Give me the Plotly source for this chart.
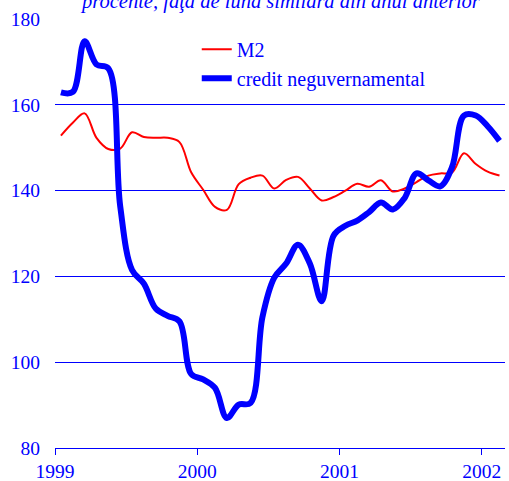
import plotly.graph_objects as go

# monthly data, Jan 1999 - Feb 2002
start_year = 1999
m2 = [152.8, 155.8, 158.0, 152.3, 149.7, 149.8, 153.6, 152.5, 152.3, 152.3, 151.3, 144.2,
      140.2, 136.2, 135.5, 141.5, 143.0, 143.5, 140.5, 142.5, 143.2, 140.5, 137.7, 138.5,
      140.0, 141.6, 140.9, 142.4, 139.8, 140.5, 142.0, 143.5, 144.0, 144.2, 148.7, 146.2,
      144.4, 143.5]
credit = [162.9, 163.0, 174.8, 169.4, 168.5, 136.4, 121.5, 118.3, 112.5, 110.8, 109.5, 97.2,
          96.0, 94.0, 87.0, 90.1, 90.5, 110.5, 119.7, 123.0, 127.4, 123.0, 114.2, 129.5,
          131.8, 133.0, 135.0, 137.2, 135.6, 138.3, 144.0, 142.4, 141.0, 145.5, 157.5, 157.5,
          155.0, 151.6]
x = [start_year + (i + 0.5) / 12 for i in range(len(m2))]
year_ticks = [1999, 2000, 2001, 2002]
y_ticks = [80, 100, 120, 140, 160, 180]
title = "procente, faţă de luna similară din anul anterior"

FONT = "Times New Roman, Liberation Serif, DejaVu Serif, serif"
BLUE = "#0000ff"

fig = go.Figure()
fig.add_trace(go.Scatter(x=x, y=m2, mode="lines", name="M2",
                         line=dict(color="#ff0000", width=2, shape="spline", smoothing=1)))
fig.add_trace(go.Scatter(x=x, y=credit, mode="lines", name="credit neguvernamental",
                         line=dict(color=BLUE, width=6, shape="spline", smoothing=1)))

fig.update_layout(
    width=509, height=481,
    margin=dict(l=55, r=4, t=19, b=33, autoexpand=False),
    paper_bgcolor="white", plot_bgcolor="white",
    font=dict(family=FONT, size=19, color=BLUE),
    showlegend=True,
    legend=dict(x=0.315, y=0.975, xanchor="left", yanchor="top",
                bgcolor="rgba(0,0,0,0)", font=dict(family=FONT, size=20, color=BLUE),
                tracegroupgap=0, itemwidth=30),
    xaxis=dict(range=[1999, 2002 + 23.3 / 142.3], tickvals=year_ticks,
               ticktext=[str(v) for v in year_ticks], automargin=False,
               showgrid=False, zeroline=False, showline=True, linecolor=BLUE, linewidth=1,
               ticks="outside", ticklen=6, tickcolor=BLUE,
               tickfont=dict(family=FONT, size=19.5, color=BLUE)),
    yaxis=dict(range=[80, 180], tickvals=y_ticks, showgrid=True, gridcolor=BLUE,
               gridwidth=1, zeroline=False, showline=False, ticks="", automargin=False,
               ticklabelstandoff=14,
               tickfont=dict(family=FONT, size=19.5, color=BLUE)),
    annotations=[dict(text="<i>" + title + "</i>", xref="paper", yref="paper",
                      x=(280 - 55) / 450, y=1.0, xanchor="center", yanchor="bottom",
                      yshift=4, showarrow=False,
                      font=dict(family=FONT, size=20.5, color=BLUE))],
)

fig.write_html("out.html", config={"displayModeBar": False},
               post_script="document.body.style.margin='0';")
